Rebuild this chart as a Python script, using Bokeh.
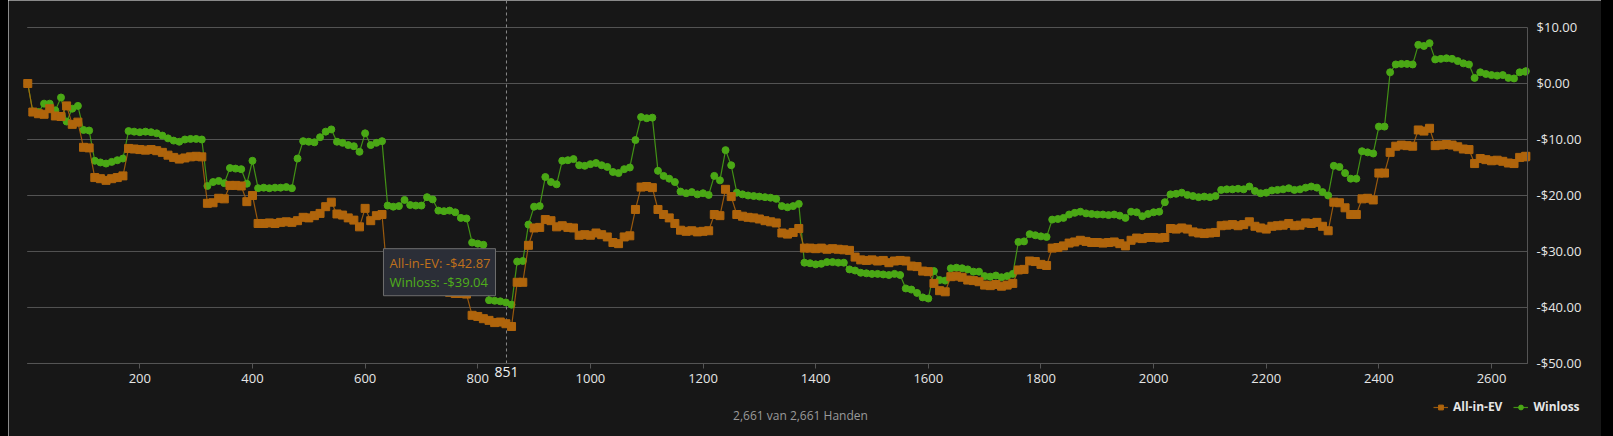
from bokeh.plotting import figure
from bokeh.layouts import row
from bokeh.models import Range1d, FixedTicker, Label, BoxAnnotation, Legend, LegendItem, Spacer
from bokeh.embed import file_html
from bokeh.resources import INLINE

# ---------------- data ----------------
total_hands = 2661
hands = [1] + list(range(10, 2661, 10)) + [2661]

all_in_ev = [
    0, -5.1, -5.4, -5.5, -4.5, -5.8, -5.9, -4.0, -7.3, -6.9,
    -11.4, -11.5, -16.8, -17.0, -17.3, -17.0, -16.8, -16.5, -11.6, -11.7,
    -11.8, -11.9, -11.8, -12.0, -12.3, -12.8, -13.2, -13.5, -13.3, -13.1,
    -13.0, -13.1, -21.4, -21.3, -20.5, -20.6, -18.2, -18.2, -18.3, -21.1,
    -20.0, -25.0, -25.0, -24.9, -25.0, -24.8, -24.7, -24.8, -24.5, -23.9,
    -24.0, -23.6, -23.2, -22.0, -21.2, -23.3, -23.5, -24.0, -24.4, -25.6,
    -22.3, -24.5, -23.6, -23.4, -35.2, -35.4, -35.6, -35.9, -36.1, -36.0,
    -36.4, -36.6, -36.5, -36.9, -37.1, -37.3, -37.5, -37.5, -37.6, -41.4,
    -41.6, -42.0, -42.3, -42.7, -42.6, -42.9, -43.4, -35.5, -35.5, -28.9,
    -25.8, -25.7, -24.3, -24.5, -25.6, -25.4, -25.7, -25.8, -27.1, -27.0,
    -27.1, -26.7, -27.0, -27.4, -28.4, -28.6, -27.4, -27.2, -22.5, -18.5,
    -18.4, -18.6, -22.5, -23.4, -24.0, -25.0, -26.2, -26.4, -26.3, -26.5,
    -26.4, -26.3, -23.4, -23.6, -18.9, -20.2, -23.4, -23.7, -23.9, -24.0,
    -24.2, -24.5, -24.7, -24.9, -26.7, -26.9, -26.6, -25.9, -29.4, -29.4,
    -29.5, -29.4, -29.6, -29.5, -29.6, -29.7, -29.8, -31.0, -31.5, -31.6,
    -31.5, -31.7, -31.6, -32.0, -31.7, -31.6, -31.7, -32.6, -32.7, -33.5,
    -33.6, -35.7, -37.0, -37.2, -34.5, -34.4, -34.6, -35.1, -35.2, -35.4,
    -36.0, -36.1, -35.9, -36.2, -36.0, -35.7, -33.3, -33.2, -31.7, -31.8,
    -32.3, -32.5, -29.4, -29.3, -29.0, -28.5, -28.3, -28.0, -28.2, -28.4,
    -28.4, -28.5, -28.4, -28.3, -28.6, -29.0, -28.0, -27.6, -27.7, -27.5,
    -27.5, -27.6, -27.5, -25.9, -26.0, -25.8, -26.0, -26.5, -26.7, -26.8,
    -26.7, -26.6, -25.4, -25.3, -25.2, -25.4, -25.2, -24.7, -25.5, -25.8,
    -26.0, -25.5, -25.4, -25.3, -25.0, -25.4, -25.3, -24.9, -25.0, -24.8,
    -25.5, -26.3, -21.2, -21.3, -22.2, -23.4, -23.4, -20.6, -20.5, -20.8,
    -16.0, -16.0, -12.3, -11.2, -11.0, -11.1, -11.2, -8.3, -8.5, -8.0,
    -11.1, -11.0, -10.9, -11.0, -11.3, -11.7, -11.8, -14.3, -13.4, -13.6,
    -13.8, -13.7, -13.9, -14.2, -14.3, -13.2, -13.1,
    -13.0,
]

winloss = [
    0, -5.0, -5.1, -3.6, -3.6, -4.8, -2.5, -6.8, -4.5, -4.0,
    -8.3, -8.4, -13.8, -14.1, -14.3, -14.0, -13.7, -13.4, -8.5, -8.6,
    -8.7, -8.6, -8.7, -8.9, -9.3, -9.8, -10.2, -10.4, -10.0, -9.9,
    -9.9, -10.0, -18.3, -17.6, -17.4, -17.8, -15.1, -15.2, -15.3, -17.9,
    -13.8, -18.7, -18.6, -18.7, -18.6, -18.6, -18.5, -18.7, -13.4, -10.3,
    -10.4, -10.5, -9.6, -8.6, -8.2, -10.4, -10.6, -11.0, -11.2, -12.2,
    -8.9, -11.0, -10.6, -10.3, -21.8, -22.0, -21.9, -20.8, -21.7, -21.8,
    -21.8, -20.3, -20.7, -22.7, -22.8, -22.7, -23.0, -24.0, -24.1, -28.4,
    -28.6, -28.8, -38.7, -38.8, -38.9, -39.1, -39.5, -31.8, -31.7, -25.2,
    -22.0, -21.9, -16.7, -17.6, -18.0, -13.8, -13.7, -13.5, -14.6, -14.7,
    -14.4, -14.2, -14.6, -14.9, -15.8, -16.0, -15.3, -15.0, -10.1, -6.0,
    -6.2, -6.1, -15.6, -16.5, -17.0, -17.6, -19.3, -19.6, -19.4, -19.8,
    -19.6, -19.9, -16.5, -17.3, -11.9, -14.6, -19.5, -19.8, -20.0, -20.1,
    -20.2, -20.3, -20.4, -20.6, -21.9, -22.1, -21.9, -21.5, -32.0, -32.1,
    -32.3, -32.2, -31.9, -31.9, -32.0, -32.0, -33.2, -33.4, -33.8, -33.9,
    -34.0, -34.0, -34.1, -34.2, -34.0, -34.2, -36.6, -36.8, -37.4, -38.2,
    -38.4, -33.5, -35.1, -35.2, -33.0, -32.9, -33.0, -33.2, -33.6, -33.6,
    -34.4, -34.5, -34.3, -34.6, -34.4, -34.0, -28.3, -28.2, -26.9, -27.1,
    -27.3, -27.4, -24.3, -24.2, -24.0, -23.4, -23.1, -22.9, -23.2, -23.3,
    -23.4, -23.4, -23.5, -23.4, -23.6, -24.0, -22.9, -23.0, -23.7, -23.3,
    -23.0, -22.9, -21.2, -19.8, -19.7, -19.5, -19.9, -20.1, -20.3, -20.2,
    -20.3, -20.1, -19.0, -18.9, -18.9, -18.8, -18.9, -18.4, -19.2, -19.6,
    -19.5, -19.1, -19.0, -18.9, -18.7, -19.0, -18.9, -18.6, -18.4, -18.6,
    -19.4, -20.0, -14.7, -14.9, -16.0, -17.0, -17.0, -12.1, -12.3, -12.5,
    -7.7, -7.7, 2.0, 3.4, 3.5, 3.5, 3.4, 6.9, 6.7, 7.2,
    4.3, 4.4, 4.5, 4.4, 4.0, 3.6, 3.4, 1.0, 2.0, 1.7,
    1.5, 1.4, 1.5, 1.0, 0.9, 2.0, 2.1,
    2.2,
]

assert len(hands) == len(all_in_ev) == len(winloss)

series_names = ["All-in-EV", "Winloss"]
x_ticks = [200, 400, 600, 800, 1000, 1200, 1400, 1600, 1800, 2000, 2200, 2400, 2600]
y_ticks = [-50, -40, -30, -20, -10, 0, 10]
y_tick_labels = ["-$50.00", "-$40.00", "-$30.00", "-$20.00", "-$10.00", "$0.00", "$10.00"]
crosshair_hand = 851
tooltip_values = [-42.87, -39.04]
footer_note = "All-in-EV = (Equity * Pot Waarde) - Bijgedragen Waarde"

# axis extents (plot area) and full canvas extents
X_MIN, X_MAX = 0, 2664
Y_MIN, Y_MAX = -50, 10
CANVAS_X = (-33.2, 2795.3)
CANVAS_Y = (-63.04, 14.82)

# ---------------- style ----------------
BG = "#171717"
GRID = "#545454"
ORANGE = "#b0650c"
GREEN = "#4aa815"
TXT = "#e6e6e6"
FONT = "Open Sans"

fig = figure(width=1593, height=436, output_backend="svg", toolbar_location=None,
             x_range=Range1d(*CANVAS_X), y_range=Range1d(*CANVAS_Y),
             y_axis_location="right",
             min_border_left=0, min_border_right=0, min_border_top=0, min_border_bottom=0,
             background_fill_color=BG, border_fill_color=BG, outline_line_color=None)

# axes drawn at fixed data locations so the whole canvas is plot area
xa = fig.xaxis[0]
xa.fixed_location = Y_MIN
xa.bounds = (X_MIN, X_MAX)
xa.ticker = FixedTicker(ticks=x_ticks)
xa.axis_line_color = GRID
xa.major_tick_line_color = GRID
xa.major_tick_out = 5
xa.major_tick_in = 0
xa.minor_tick_line_color = None
xa.major_label_text_color = TXT
xa.major_label_text_font = FONT
xa.major_label_text_font_size = "13px"
xa.major_label_standoff = 6

ya = fig.yaxis[0]
ya.fixed_location = X_MAX
ya.bounds = (Y_MIN, Y_MAX)
ya.ticker = FixedTicker(ticks=y_ticks)
ya.major_label_overrides = dict(zip(y_ticks, y_tick_labels))
ya.axis_line_color = GRID
ya.major_tick_line_color = None
ya.major_tick_out = 0
ya.major_tick_in = 0
ya.minor_tick_line_color = None
ya.minor_tick_out = 0
ya.major_label_text_color = TXT
ya.major_label_text_font = FONT
ya.major_label_text_font_size = "13px"
ya.major_label_standoff = 9

fig.xgrid.visible = False
fig.ygrid.visible = False
# horizontal grid lines limited to the plot area
fig.segment(x0=[X_MIN] * len(y_ticks), x1=[X_MAX] * len(y_ticks), y0=y_ticks, y1=y_ticks,
            line_color=GRID, line_width=1)

# crosshair
fig.segment(x0=[crosshair_hand], x1=[crosshair_hand], y0=[Y_MIN], y1=[CANVAS_Y[1]],
            line_color="#8a8a8a", line_width=1, line_dash="3 3")

# series
gl = fig.line(hands, winloss, line_color=GREEN, line_width=1.2, line_alpha=0.85)
gs = fig.scatter(hands, winloss, marker="circle", size=7, fill_color=GREEN, line_color=GREEN)
ol = fig.line(hands, all_in_ev, line_color=ORANGE, line_width=1.2, line_alpha=0.85)
os_ = fig.scatter(hands, all_in_ev, marker="square", size=8, fill_color=ORANGE, line_color=ORANGE)

fig.add_layout(Label(x=crosshair_hand, y=-51.6, text=str(crosshair_hand), text_align="center",
                     text_baseline="middle", text_color="#f2f2f2", text_font=FONT,
                     text_font_size="14px"))

# tooltip
fig.add_layout(BoxAnnotation(left=632.6, right=831.5, top=-29.5, bottom=-37.9,
                             fill_color="#2b2e37", fill_alpha=1.0, line_color="#6e6e6e",
                             line_width=1, line_alpha=1.0))
fig.add_layout(Label(x=643.5, y=-32.1, text=f"{series_names[0]}: -${abs(tooltip_values[0]):.2f}",
                     text_align="left", text_baseline="middle", text_color="#c0711b",
                     text_font=FONT, text_font_size="13px"))
fig.add_layout(Label(x=643.5, y=-35.5, text=f"{series_names[1]}: -${abs(tooltip_values[1]):.2f}",
                     text_align="left", text_baseline="middle", text_color="#4fae1a",
                     text_font=FONT, text_font_size="13px"))

# legend
legend = Legend(items=[LegendItem(label=series_names[0], renderers=[ol, os_]),
                       LegendItem(label=series_names[1], renderers=[gl, gs])],
                orientation="horizontal", location=(1425, 21),
                background_fill_alpha=0, border_line_color=None,
                label_text_color=TXT, label_text_font=FONT, label_text_font_style="bold",
                label_text_font_size="12px", padding=0, margin=0, spacing=11,
                glyph_width=15, glyph_height=12, label_standoff=5)
fig.add_layout(legend)

# footer texts
fig.add_layout(Label(x=1373, y=-59.3, text=f"{total_hands:,} van {total_hands:,} Handen",
                     text_align="center", text_baseline="middle", text_color="#9a9a9a",
                     text_font=FONT, text_font_size="12px"))
fig.add_layout(Label(x=2760, y=-63.6, text=footer_note, text_align="right",
                     text_baseline="middle", text_color="#9a9a9a",
                     text_font=FONT, text_font_size="11px"))

left_pad = Spacer(width=8, height=436, styles={"background-color": "#000000"})
right_pad = Spacer(width=12, height=436, styles={"background-color": "#000000"})
p = row(left_pad, fig, right_pad)

open("out.html", "w").write(file_html(p, INLINE))
